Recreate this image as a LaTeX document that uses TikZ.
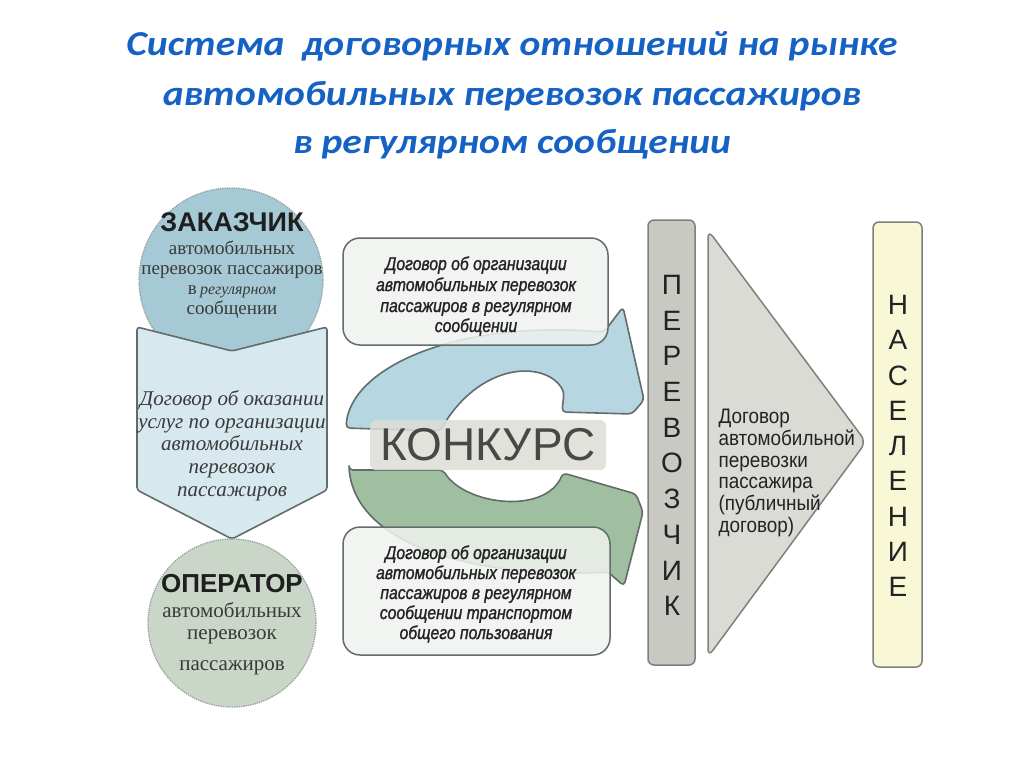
\documentclass[tikz,border=0pt]{standalone}
\usepackage{fontspec}
\setmainfont{Liberation Serif}
\setsansfont{Liberation Sans}
\newfontfamily\titlefont{Carlito}[FakeStretch=1.13]
\newfontfamily\narrowsans{Liberation Sans}[FakeStretch=0.9]
\newfontfamily\narrowit{Liberation Sans Italic}[FakeStretch=0.85, FakeBold=1.3]
\usetikzlibrary{shapes.geometric}
\definecolor{titleblue}{RGB}{22,98,196}
\definecolor{zakfill}{RGB}{166,201,214}
\definecolor{chevfill}{RGB}{215,232,238}
\definecolor{opfill}{RGB}{201,214,200}
\definecolor{bluearr}{RGB}{182,214,226}
\definecolor{greenarr}{RGB}{160,191,160}
\definecolor{boxfill}{RGB}{239,243,239}
\definecolor{edgegray}{RGB}{98,108,106}
\definecolor{circedge}{RGB}{150,160,160}
\definecolor{barfill}{RGB}{201,201,196}
\definecolor{baredge}{RGB}{128,128,122}
\definecolor{trifill}{RGB}{219,219,213}
\definecolor{popfill}{RGB}{248,248,214}
\definecolor{konkfill}{RGB}{222,222,216}
\definecolor{konktext}{RGB}{72,72,68}
\definecolor{txtdark}{RGB}{35,35,35}
\definecolor{txtgray}{RGB}{58,58,58}
\tikzset{
  circ/.style={circle, draw=circedge, densely dotted, line width=1.3pt, inner sep=0pt},
  edgeshape/.style={draw=edgegray, line width=1.6pt, line join=round},
  rbox/.style={rectangle, rounded corners=17pt, draw=edgegray, line width=1.5pt, fill=boxfill, fill opacity=0.86, inner sep=0pt},
  bar/.style={rectangle, rounded corners=6pt, draw=baredge, line width=1.5pt, inner sep=0pt},
  titletext/.style={font=\titlefont\bfseries\itshape\fontsize{35}{40}\selectfont, text=titleblue, anchor=base},
  bigbold/.style={font=\sffamily\bfseries\fontsize{27}{30}\selectfont, text=black!88, anchor=base},
  circtext/.style={font=\fontsize{19}{21}\selectfont, text=txtgray, anchor=base, inner sep=1pt},
  optext/.style={font=\fontsize{21}{24}\selectfont, text=txtgray, anchor=base},
  chevtext/.style={font=\itshape\fontsize{21}{23}\selectfont, text=txtgray, anchor=base},
  midtext/.style={font=\narrowit\fontsize{18.5}{21}\selectfont, text=txtdark, anchor=base},
  tritext/.style={font=\narrowsans\fontsize{21}{23}\selectfont, text=txtdark, anchor=base west},
  barletter/.style={font=\sffamily\fontsize{28}{28}\selectfont, text=txtdark, inner sep=0pt},
  konkstyle/.style={rectangle, rounded corners=6pt, fill=konkfill, fill opacity=0.85, text opacity=1,
    font=\sffamily\fontsize{46}{46}\selectfont, text=konktext, minimum width=236pt, minimum height=50pt, inner sep=0pt}
}
\begin{document}
\begin{tikzpicture}[x=1pt,y=-1pt]
\useasboundingbox (0,0) rectangle (1024,768);
\fill[white] (0,0) rectangle (1024,768);

% title
\node[titletext] (title1) at (512,56) {Система\ \ договорных отношений на рынке};
\node[titletext] (title2) at (512,105) {автомобильных перевозок пассажиров};
\node[titletext] (title3) at (512,153) {в регулярном сообщении};

% left column
\node[circ, fill=zakfill, minimum size=184pt] (zak) at (231,280) {};
\node[bigbold] (zakname) at (232,231) {ЗАКАЗЧИК};
\node[circtext] (zak1) at (232,254) {автомобильных};
\node[circtext] (zak2) at (232,274) {перевозок пассажиров};
\node[circtext] (zak3) at (232,294) {в\,{\itshape\fontsize{16}{18}\selectfont регулярном}};
\node[circtext] (zak4) at (232,314) {сообщении};

\draw[edgeshape, fill=chevfill, rounded corners=3pt] (137,327) -- (232,351) -- (327,327) -- (327,490) -- (232,539) -- (137,490) -- cycle;
\foreach \s/\yy [count=\k] in {{Договор об оказании}/405, {услуг по организации}/428, {автомобильных}/450, {перевозок}/473, {пассажиров}/496}
  \node[chevtext] (chev\k) at (232,\yy) {\s};

\node[circ, fill=opfill, minimum size=168pt] (op) at (232,623) {};
\node[bigbold, font=\sffamily\bfseries\fontsize{26}{30}\selectfont] (opname) at (232,592) {ОПЕРАТОР};
\node[optext] (op1) at (232,617) {автомобильных};
\node[optext] (op2) at (232,639) {перевозок};
\node[optext] (op3) at (232,670) {пассажиров};

% middle: curved arrows
\draw[edgeshape, fill=bluearr, rounded corners=4pt]
  (346,428) .. controls (350,370) and (450,320) .. (604,332) -- (623,307) -- (644,400) -- (632,414) -- (562,412) -- (564,392)
  .. controls (545,360) and (480,362) .. (440,431) -- cycle;
\draw[edgeshape, fill=greenarr, rounded corners=4pt]
  (349,470) -- (443,470) .. controls (465,505) and (545,515) .. (563,473) -- (636,494) -- (643,512) -- (624,586) -- (608,572)
  .. controls (500,578) and (362,555) .. (349,470) -- cycle;

\node[konkstyle] (konk) at (488,445) {КОНКУРС};

\node[rbox, minimum width=265pt, minimum height=107pt] (topbox) at (475.5,291.5) {};
\foreach \s/\yy [count=\k] in {{Договор об организации}/270, {автомобильных перевозок}/291, {пассажиров в регулярном}/312, {сообщении}/332}
  \node[midtext] (tb\k) at (476,\yy) {\s};

\node[rbox, minimum width=267pt, minimum height=128pt] (botbox) at (476.5,591) {};
\foreach \s/\yy [count=\k] in {{Договор об организации}/559, {автомобильных перевозок}/579, {пассажиров в регулярном}/599, {сообщении транспортом}/619, {общего пользования}/639}
  \node[midtext] (bb\k) at (476,\yy) {\s};

% right: carrier bar
\node[bar, fill=barfill, minimum width=47pt, minimum height=445pt] (perbar) at (671.5,442.5) {};
\foreach \l [count=\k] in {П,Е,Р,Е,В,О,З,Ч,И,К}
  \node[barletter] (per\k) at (672,{285+35.67*(\k-1)}) {\l};

% triangle
\draw[draw=baredge, line width=1.5pt, fill=trifill, rounded corners=8pt] (708,230) -- (866,442) -- (708,657) -- cycle;
\foreach \s/\yy [count=\k] in {{Договор}/423, {автомобильной}/445, {перевозки}/467, {пассажира}/488, {(публичный}/510, {договор)}/532}
  \node[tritext] (tri\k) at (715,\yy) {\s};

% population bar
\node[bar, fill=popfill, minimum width=49pt, minimum height=445pt] (popbar) at (897.5,444.5) {};
\foreach \l [count=\k] in {Н,А,С,Е,Л,Е,Н,И,Е}
  \node[barletter] (pop\k) at (898,{305+35.25*(\k-1)}) {\l};
\end{tikzpicture}
\end{document}
